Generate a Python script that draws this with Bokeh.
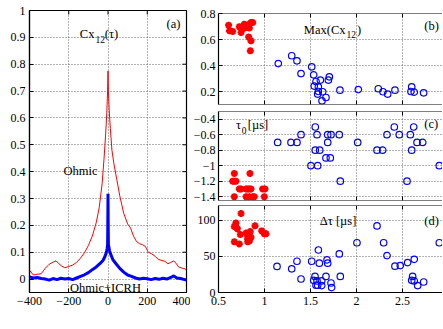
import math
from bokeh.plotting import figure
from bokeh.models import Range1d, FixedTicker, CustomJSTickFormatter, Label, Span
from bokeh.layouts import row, column
from bokeh.embed import file_html
from bokeh.resources import INLINE

# ---------------- data ----------------
# (a) cross-correlation Cx12(tau)
tau_ohmic = [-400, -380, -360, -340, -320, -300, -280, -265, -250, -235, -220, -200, -180,
             -160, -140, -120, -100, -80, -60, -45, -30, -20, -12, -6, -2, 0, 2, 6, 12, 20,
             30, 45, 60, 80, 100, 115, 130, 145, 160, 175, 190, 205, 220, 240, 255, 270,
             290, 305, 320, 335, 345, 360, 380, 400]
cx_ohmic = [0.033, 0.015, 0.018, 0.020, 0.040, 0.055, 0.063, 0.068, 0.057, 0.048, 0.042,
            0.047, 0.052, 0.062, 0.078, 0.098, 0.125, 0.160, 0.210, 0.265, 0.355, 0.450,
            0.540, 0.620, 0.700, 0.775, 0.700, 0.630, 0.560, 0.480, 0.430, 0.370, 0.310,
            0.245, 0.205, 0.190, 0.160, 0.140, 0.132, 0.128, 0.122, 0.100, 0.095, 0.085,
            0.074, 0.070, 0.066, 0.057, 0.062, 0.068, 0.060, 0.045, 0.040, 0.036]
tau_icrh = [-400, -380, -360, -340, -320, -300, -280, -260, -240, -220, -200, -180, -160,
            -140, -120, -100, -80, -60, -40, -25, -15, -8, -4, -2, -1, 0, 1, 2, 4, 8, 15,
            25, 40, 60, 80, 100, 120, 140, 160, 180, 200, 220, 240, 260, 280, 300, 320,
            335, 350, 370, 390, 400]
cx_icrh = [0.008, 0.004, 0.006, 0.002, 0.000, -0.004, 0.002, -0.002, 0.003, 0.000, 0.002,
           -0.002, 0.004, 0.010, 0.016, 0.024, 0.035, 0.045, 0.058, 0.070, 0.085, 0.100,
           0.115, 0.130, 0.200, 0.318, 0.200, 0.130, 0.120, 0.105, 0.090, 0.072, 0.058,
           0.040, 0.026, 0.015, 0.010, 0.004, 0.000, 0.003, 0.001, -0.002, 0.002, -0.001,
           0.003, 0.000, 0.006, 0.012, 0.004, 0.002, -0.002, -0.004]

# (b) Max(Cx12) vs P_tot
p_max_ohmic = [0.61, 0.62, 0.654, 0.726, 0.745, 0.763, 0.78, 0.80, 0.817, 0.835, 0.853,
               0.872, 0.828, 0.853, 0.846, 0.774, 0.835]
max_ohmic = [0.71, 0.667, 0.662, 0.698, 0.654, 0.68, 0.718, 0.692, 0.705, 0.718, 0.73,
             0.73, 0.62, 0.59, 0.513, 0.688, 0.688]
p_max_icrh = [1.15, 1.296, 1.353, 1.397, 1.513, 1.535, 1.56, 1.607, 1.541, 1.585, 1.694,
              1.705, 1.585, 1.578, 1.633, 1.668, 1.625, 1.82, 2.02, 2.237, 2.288, 2.339,
              2.418, 2.60, 2.592, 2.628, 2.73]
max_icrh = [0.415, 0.475, 0.436, 0.338, 0.39, 0.328, 0.277, 0.288, 0.242, 0.236, 0.288,
            0.313, 0.20, 0.18, 0.198, 0.154, 0.128, 0.21, 0.215, 0.221, 0.198, 0.18, 0.21,
            0.236, 0.20, 0.195, 0.19]

# (c) tau_0 vs P_tot
p_tau0_ohmic = [0.672, 0.842, 0.654, 0.672, 0.69, 0.726, 0.745, 0.80, 0.817, 0.835, 0.853,
                0.98, 1.005, 0.672, 0.80, 0.835, 0.872, 0.889, 0.998]
tau0_ohmic = [-1.1, -1.1, -1.2, -1.2, -1.2, -1.3, -1.3, -1.3, -1.3, -1.3, -1.3, -1.3, -1.3,
              -1.4, -1.4, -1.4, -1.4, -1.4, -1.4]
p_tau0_icrh = [1.143, 1.288, 1.353, 1.397, 1.552, 1.571, 1.687, 1.723, 1.813, 1.687, 1.552,
               1.60, 1.668, 1.715, 1.505, 1.578, 1.824, 2.013, 2.223, 2.285, 2.332, 2.411,
               2.465, 2.585, 2.622, 2.658, 2.72, 2.60, 2.549, 2.90]
tau0_icrh = [-0.7, -0.7, -0.7, -0.6, -0.5, -0.6, -0.6, -0.6, -0.6, -0.7, -0.8, -0.8, -0.9,
             -0.9, -1.0, -1.0, -1.2, -0.7, -0.8, -0.8, -0.6, -0.5, -0.6, -0.6, -0.5, -0.7,
             -0.7, -0.8, -1.2, -1.0]

# (d) delta tau vs P_tot
p_dtau_ohmic = [0.745, 0.69, 0.672, 0.69, 0.705, 0.897, 0.737, 0.80, 0.817, 0.835, 0.853,
                0.817, 0.835, 0.817, 0.672, 0.726, 0.97, 0.998, 1.016, 0.845]
dtau_ohmic = [109, 96, 91, 90, 88, 92, 80, 82, 78, 80, 76, 74, 71, 70, 70, 67, 85, 81, 81, 84]
p_dtau_icrh = [1.136, 1.296, 1.353, 1.397, 1.513, 1.585, 1.596, 1.68, 1.687, 1.813, 1.549,
               1.535, 1.571, 1.56, 1.578, 1.622, 1.622, 1.668, 1.723, 1.73, 1.824, 2.005,
               2.223, 2.295, 2.332, 2.418, 2.476, 2.556, 2.628, 2.61, 2.60, 2.628, 2.665,
               2.73, 2.90]
dtau_icrh = [35.9, 32.7, 43.1, 18.6, 43.1, 58.6, 40.4, 45, 40.4, 53.2, 22.2, 16.8, 15.9, 10,
             10, 15.9, 9.5, 22.2, 13.1, 6.8, 22.2, 68.6, 91.8, 68.6, 50.9, 36.3, 37.2, 41.3,
             45.8, 22.2, 16.8, 15.9, 9.5, 14.5, 68.6]

tau_ticks = [-400, -200, 0, 200, 400]
cx_ticks = [0, 0.1, 0.2, 0.3, 0.4, 0.5, 0.6, 0.7, 0.8, 0.9, 1]
p_ticks = [0.5, 1, 1.5, 2, 2.5]
max_ticks = [0.2, 0.4, 0.6, 0.8]
tau0_ticks = [-1.4, -1.2, -1, -0.8, -0.6, -0.4]
dtau_ticks = [0, 50, 100]

# ---------------- styling ----------------
FONT = "Liberation Serif"
JS = "var v = Math.round(tick*1000)/1000; return v < 0 ? '\\u2212' + String(-v) : String(v);"
RED = "#ff0000"
BLUE = "#0000ff"
TICK = 4


def make_fig(ox, oy, w, h, xr, yr, mb, outline=True):
    p = figure(width=w, height=h, x_range=Range1d(*xr), y_range=Range1d(*yr),
               output_backend="svg", toolbar_location=None,
               min_border_left=mb[0], min_border_right=mb[1],
               min_border_top=mb[2], min_border_bottom=mb[3],
               background_fill_color="white", border_fill_color="white",
               outline_line_color="black" if outline else None, outline_line_width=1.2)
    p._box = (ox + mb[0], ox + w - mb[1], oy + mb[2], oy + h - mb[3])
    return p


def style_axis(ax, ticks, standoff):
    ax.ticker = FixedTicker(ticks=ticks)
    ax.formatter = CustomJSTickFormatter(code=JS)
    ax.major_tick_in = TICK
    ax.major_tick_out = 0
    ax.minor_tick_in = 0
    ax.minor_tick_out = 0
    ax.axis_line_color = "black"
    ax.axis_line_width = 1.2
    ax.major_tick_line_color = "black"
    ax.major_tick_line_width = 1
    ax.major_label_text_font = FONT
    ax.major_label_text_color = "black"
    ax.major_label_text_font_size = "12px"
    ax.major_label_standoff = standoff


def style_grid(p, xt, yt):
    p.xgrid[0].ticker = FixedTicker(ticks=xt)
    p.ygrid[0].ticker = FixedTicker(ticks=yt)
    for g in (p.xgrid[0], p.ygrid[0]):
        g.grid_line_color = "#666666"
        g.grid_line_dash = "1 2"
        g.grid_line_width = 1


def edge_line(p, where):
    loc = p.y_range.end if where == "top" else p.y_range.start
    p.add_layout(Span(location=loc, dimension="width", line_color="black", line_width=1.2))


def edge_ticks(p, where, ticks):
    # inward tick marks on an edge without labels
    if where == "top":
        p.ray(x=ticks, y=[p.y_range.end] * len(ticks), length=TICK, length_units="screen",
              angle=-math.pi / 2, line_color="black", line_width=1)
    elif where == "bottom":
        p.ray(x=ticks, y=[p.y_range.start] * len(ticks), length=TICK, length_units="screen",
              angle=math.pi / 2, line_color="black", line_width=1)
    elif where == "right":
        p.ray(x=[p.x_range.end] * len(ticks), y=ticks, length=TICK, length_units="screen",
              angle=math.pi, line_color="black", line_width=1)


def add_text(p, px, py, text, size="12.5px", align="left", baseline="alphabetic"):
    L, R, T, B = p._box
    x0, x1 = p.x_range.start, p.x_range.end
    y0, y1 = p.y_range.start, p.y_range.end
    x = x0 + (px - L) / (R - L) * (x1 - x0)
    y = y0 + (B - py) / (B - T) * (y1 - y0)
    p.add_layout(Label(x=x, y=y, text=text, text_font=FONT, text_font_size=size,
                       text_color="black", text_align=align, text_baseline=baseline))


W_TOTAL, H_TOTAL = 442, 328
LEFT_W = 190

# ---------------- (a) ----------------
pa = make_fig(0, 0, LEFT_W, H_TOTAL, (-400, 400), (-0.05, 1.0), (29, 4, 10, 36))
style_axis(pa.xaxis[0], tau_ticks, 4)
style_axis(pa.yaxis[0], cx_ticks, 4)
style_grid(pa, tau_ticks, cx_ticks)
edge_ticks(pa, "top", tau_ticks)
edge_ticks(pa, "right", cx_ticks)
pa.line(tau_ohmic, cx_ohmic, line_color=RED, line_width=1)
pa.line(tau_icrh, cx_icrh, line_color=BLUE, line_width=3)
add_text(pa, 79.3, 33.5, "Cx")
add_text(pa, 95.0, 38.5, "12", size="9.5px")
add_text(pa, 104.3, 33.5, "(τ)")
add_text(pa, 173, 23.5, "(a)", align="center", baseline="middle")
add_text(pa, 80, 170, "Ohmic", align="center", baseline="middle")
add_text(pa, 105, 287, "Ohmic+ICRH", align="center", baseline="middle")
add_text(pa, 107, 317, "τ [µs]", align="center", baseline="middle")

RW = W_TOTAL - LEFT_W
X_RANGE = (0.5, 0.5 + (RW - 28) / 92.0)


def right_panel(oy, h, yr, mb, yticks, show_x):
    p = make_fig(LEFT_W, oy, RW, h, X_RANGE, yr, mb, outline=False)
    style_axis(p.yaxis[0], yticks, 3)
    if show_x:
        style_axis(p.xaxis[0], p_ticks, 4)
    else:
        p.xaxis[0].visible = False
        edge_line(p, "bottom")
        edge_ticks(p, "bottom", p_ticks)
    edge_line(p, "top")
    edge_ticks(p, "top", p_ticks)
    style_grid(p, p_ticks, yticks)
    return p


def scatter_pair(p, xo, yo, xi, yi):
    p.scatter(xo, yo, marker="asterisk", size=7, line_color=RED, line_width=2.2)
    p.scatter(xi, yi, marker="circle", size=6.5, line_color=BLUE, fill_color=None,
              line_width=1.2)


# ---------------- (b) ----------------
pb = right_panel(0, 107, (0.1, 0.8), (28, 0, 13, 3), max_ticks, False)
scatter_pair(pb, p_max_ohmic, max_ohmic, p_max_icrh, max_icrh)
add_text(pb, 303.3, 29.5, "Max(Cx")
add_text(pb, 346, 34.3, "12", size="9.5px")
add_text(pb, 356.5, 29.5, ")")
add_text(pb, 431, 25, "(b)", align="center", baseline="middle")

# ---------------- (c) ----------------
pc = right_panel(107, 97, (-1.45, -0.3), (28, 0, 4, 4), tau0_ticks, False)
scatter_pair(pc, p_tau0_ohmic, tau0_ohmic, p_tau0_icrh, tau0_icrh)
add_text(pc, 235.5, 124.5, "τ")
add_text(pc, 241.3, 129.5, "0", size="9.5px")
add_text(pc, 247.3, 124.5, "[µs]")
add_text(pc, 430.8, 123.3, "(c)", align="center", baseline="middle")

# ---------------- (d) ----------------
pd_ = right_panel(204, H_TOTAL - 204, (0, 120), (28, 0, 1, H_TOTAL - 292), dtau_ticks, True)
scatter_pair(pd_, p_dtau_ohmic, dtau_ohmic, p_dtau_icrh, dtau_icrh)
add_text(pd_, 337.5, 220, "Δτ [µs]", align="center", baseline="middle")
add_text(pd_, 431, 220, "(d)", align="center", baseline="middle")
add_text(pd_, 305.5, 315, "P")
add_text(pd_, 313.5, 320, "tot", size="9.5px")
add_text(pd_, 326, 315, "[MW]")

layout = row(pa, column(pb, pc, pd_))
open("out.html", "w", encoding="utf-8").write(file_html(layout, INLINE))
